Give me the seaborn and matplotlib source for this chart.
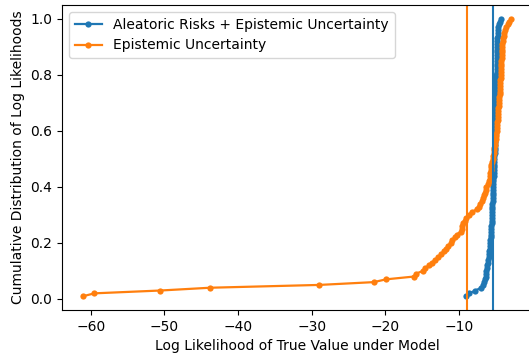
import matplotlib
matplotlib.use("Agg")
import matplotlib.pyplot as plt
import seaborn as sns
import numpy as np
import pandas as pd

# Sorted log likelihoods, 100 samples each
epistemic_ll = [
    -61.0, -59.5, -50.6, -43.8, -29.0, -21.6, -19.9, -16.1, -15.9, -14.9,
    -14.6, -14.1, -13.7, -13.2, -12.8, -12.4, -12.1, -11.8, -11.5, -11.1,
    -10.9, -10.6, -10.3, -9.8, -9.6, -9.55, -9.5, -9.2, -9.0, -8.7,
    -8.3, -7.6, -7.3, -7.1, -6.95, -6.8, -6.6, -6.5, -6.4, -6.3,
    -6.05, -5.9, -5.85, -5.8, -5.75, -5.7, -5.65, -5.6, -5.5, -5.4,
    -5.35, -5.3, -5.25, -5.2, -5.15, -5.1, -5.05, -4.97, -4.93, -4.9,
    -4.86, -4.83, -4.8, -4.77, -4.74, -4.71, -4.68, -4.65, -4.62, -4.59,
    -4.56, -4.53, -4.51, -4.49, -4.47, -4.45, -4.42, -4.39, -4.37, -4.35,
    -4.33, -4.31, -4.29, -4.27, -4.25, -4.23, -4.21, -4.19, -4.17, -4.15,
    -4.12, -4.08, -4.02, -3.95, -3.88, -3.75, -3.6, -3.4, -3.2, -3.0,
]
aleatoric_ll = [
    -9.05, -8.6, -7.8, -7.0, -6.7, -6.55, -6.45, -6.4, -6.35, -6.3,
    -6.25, -6.2, -6.1, -6.05, -6.0, -5.95, -5.9, -5.85, -5.8, -5.77,
    -5.75, -5.72, -5.69, -5.66, -5.63, -5.61, -5.59, -5.57, -5.56, -5.55,
    -5.53, -5.51, -5.49, -5.47, -5.45, -5.43, -5.42, -5.41, -5.4, -5.38,
    -5.36, -5.34, -5.33, -5.32, -5.31, -5.3, -5.28, -5.26, -5.24, -5.22,
    -5.2, -5.19, -5.18, -5.17, -5.16, -5.15, -5.14, -5.13, -5.12, -5.11,
    -5.1, -5.09, -5.08, -5.07, -5.06, -5.05, -5.04, -5.03, -5.02, -5.01,
    -5.0, -4.99, -4.98, -4.97, -4.97, -4.96, -4.95, -4.94, -4.93, -4.92,
    -4.91, -4.9, -4.89, -4.88, -4.87, -4.86, -4.85, -4.84, -4.83, -4.82,
    -4.81, -4.8, -4.79, -4.78, -4.74, -4.7, -4.66, -4.6, -4.5, -4.3,
]
# Vertical reference lines
aleatoric_vline = -5.37
epistemic_vline = -8.9

labels = ["Aleatoric Risks + Epistemic Uncertainty", "Epistemic Uncertainty"]
colors = ["#1f77b4", "#ff7f0e"]

n = len(epistemic_ll)
cdf = [(i + 1) / n for i in range(n)]

fig = plt.figure(figsize=(5.29, 3.56), dpi=100)
ax = fig.add_axes([62 / 529, 1 - 310 / 356, (532 - 62) / 529, (310 - 5) / 356])

for vals, lab, col in zip([aleatoric_ll, epistemic_ll], labels, colors):
    df = pd.DataFrame({"x": vals, "y": cdf})
    sns.lineplot(data=df, x="x", y="y", sort=False, estimator=None, ax=ax,
                 color=col, marker="o", markersize=4.5, markeredgewidth=0,
                 linewidth=1.6, label=lab)

ax.axvline(aleatoric_vline, color=colors[0], linewidth=1.5)
ax.axvline(epistemic_vline, color=colors[1], linewidth=1.5)

ax.set_xlabel("Log Likelihood of True Value under Model", fontsize=10)
ax.set_ylabel("Cumulative Distribution of Log Likelihoods", fontsize=10)
ax.tick_params(labelsize=10)
ax.legend(loc="upper left", fontsize=10)

fig.savefig("out.png", dpi=100)
